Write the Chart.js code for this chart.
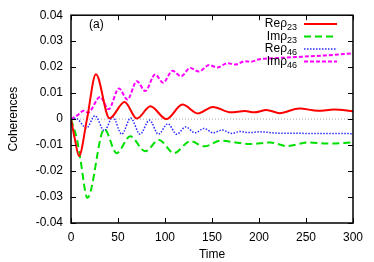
<!DOCTYPE html>
<html>
<head>
<meta charset="utf-8">
<script src="https://cdn.jsdelivr.net/npm/chart.js@4.4.0/dist/chart.umd.min.js"></script>
<style>
  html, body { margin: 0; padding: 0; background: #fff; }
  canvas { display: block; }
</style>
</head>
<body>
<canvas id="coherenceChart" width="374" height="262"></canvas>
<script>
// values (extrema + a few points on the steep start)
const timeRe23 = [0, 4, 8.5, 17, 26.5, 41, 57, 70, 84.5, 101.5, 118.5, 135, 151, 170, 185, 195, 208, 222, 243, 263, 280, 300];
const valRe23 = [0, -0.0075, -0.0142, 0, 0.0173, 0.0003, 0.0066, 0.0002, 0.0049, 0.0000, 0.0056, 0.0022, 0.0047, 0.0026, 0.0031, 0.0026, 0.0035, 0.0023, 0.0041, 0.0032, 0.0037, 0.0030];

const timeIm23 = [0, 6.5, 10, 17.5, 35.5, 48.5, 63, 79, 93.5, 109.5, 127, 142, 159, 175, 190, 212, 230, 252, 272, 300];
const valIm23 = [0, -0.008, -0.0155, -0.0303, -0.0038, -0.0131, -0.0066, -0.0124, -0.0080, -0.0131, -0.0085, -0.0105, -0.0083, -0.0090, -0.0096, -0.0090, -0.0104, -0.0090, -0.0094, -0.0090];

const timeRe46 = [0, 5, 16.5, 25.5, 35.5, 44.5, 54, 63.5, 73.5, 83.5, 93, 103, 112.5, 122, 132, 141.5, 151.5, 160.5, 171, 180, 190, 200, 220, 250, 300];
const valRe46 = [0, 0.0003, -0.0034, 0.0013, -0.0045, 0.0008, -0.0058, 0.0004, -0.0058, -0.0004, -0.0058, -0.0018, -0.0058, -0.0030, -0.0053, -0.0036, -0.0053, -0.0042, -0.0055, -0.0048, -0.0052, -0.0049, -0.0054, -0.0055, -0.0056];

const timeIm46 = [0, 7, 13.5, 18, 31, 40, 51, 60, 70, 79, 89.5, 98, 108, 117, 127, 136, 147, 155.5, 166.5, 175, 185, 191, 200, 220, 245, 270, 300];
const valIm46 = [0, 0.0015, 0.0032, 0.0025, 0.0085, 0.0038, 0.0118, 0.0075, 0.0146, 0.0108, 0.0172, 0.0140, 0.0186, 0.0165, 0.0197, 0.0183, 0.0208, 0.0199, 0.0215, 0.0210, 0.0223, 0.0221, 0.0230, 0.0235, 0.0240, 0.0245, 0.0253];

const legendBase = ['Re\u03c1', 'Im\u03c1', 'Re\u03c1', 'Im\u03c1'];
const legendSub = ['23', '23', '46', '46'];
const xTicks = [0, 50, 100, 150, 200, 250, 300];
const yTicks = [-0.04, -0.03, -0.02, -0.01, 0, 0.01, 0.02, 0.03, 0.04];
const panelLabel = '(a)';

const FONT = '"Liberation Sans", Arial, Helvetica, sans-serif';

function pairs(ts, vs) {
    return ts.map((t, i) => ({ x: t, y: vs[i] }));
}

const seriesStyle = [
    { color: '#ff0000', width: 2, dash: [] },
    { color: '#00e000', width: 2, dash: [7, 4] },
    { color: '#2a2aff', width: 1.5, dash: [1.5, 1.5] },
    { color: '#ff00ff', width: 2, dash: [4, 2] }
];
const seriesData = [
    pairs(timeRe23, valRe23),
    pairs(timeIm23, valIm23),
    pairs(timeRe46, valRe46),
    pairs(timeIm46, valIm46)
];

// gnuplot-like frame, inward ticks, zero axis, panel label and legend
const gnuplotLook = {
    id: 'gnuplotLook',
    beforeDatasetsDraw(chart) {
        const { ctx, chartArea: a, scales: { y } } = chart;
        const y0 = y.getPixelForValue(0);
        ctx.save();
        ctx.strokeStyle = '#a8a8a8';
        ctx.lineWidth = 1;
        ctx.setLineDash([1, 2]);
        ctx.beginPath();
        ctx.moveTo(a.left, y0);
        ctx.lineTo(a.right, y0);
        ctx.stroke();
        ctx.restore();
    },
    afterDatasetsDraw(chart) {
        const { ctx, chartArea: a, scales: { x, y } } = chart;
        ctx.save();
        ctx.strokeStyle = '#000';
        ctx.lineWidth = 1;
        ctx.beginPath();
        xTicks.forEach(t => {
            const px = Math.round(x.getPixelForValue(t)) + 0.5;
            ctx.moveTo(px, a.bottom); ctx.lineTo(px, a.bottom - 5);
            ctx.moveTo(px, a.top); ctx.lineTo(px, a.top + 5);
        });
        yTicks.forEach(v => {
            const py = Math.round(y.getPixelForValue(v)) + 0.5;
            ctx.moveTo(a.left, py); ctx.lineTo(a.left + 5, py);
            ctx.moveTo(a.right, py); ctx.lineTo(a.right - 5, py);
        });
        ctx.stroke();
        ctx.lineWidth = 1.5;
        ctx.strokeRect(a.left, a.top, a.right - a.left, a.bottom - a.top);

        ctx.fillStyle = '#000';
        ctx.font = '12px ' + FONT;
        ctx.textBaseline = 'middle';
        ctx.textAlign = 'left';
        ctx.fillText(panelLabel, 89, 25);

        // legend
        const textRight = 297, lineL = 304, lineR = 337;
        legendBase.forEach((base, i) => {
            const rowY = 24 + i * 12.5;
            ctx.font = '9px ' + FONT;
            const subW = ctx.measureText(legendSub[i]).width;
            ctx.font = '12px ' + FONT;
            const baseW = ctx.measureText(base).width;
            ctx.textBaseline = 'alphabetic';
            ctx.fillText(base, textRight - subW - baseW, rowY + 3);
            ctx.font = '9px ' + FONT;
            ctx.fillText(legendSub[i], textRight - subW, rowY + 6);

            const st = seriesStyle[i];
            ctx.strokeStyle = st.color;
            ctx.lineWidth = st.width;
            ctx.setLineDash(st.dash);
            ctx.beginPath();
            ctx.moveTo(lineL, rowY);
            ctx.lineTo(lineR, rowY);
            ctx.stroke();
            ctx.setLineDash([]);
        });
        ctx.restore();
    }
};

const ctx = document.getElementById('coherenceChart').getContext('2d');
window.myChart = new Chart(ctx, {
    type: 'line',
    data: {
        datasets: seriesData.map((d, i) => ({
            label: legendBase[i] + legendSub[i],
            data: d,
            borderColor: seriesStyle[i].color,
            borderWidth: seriesStyle[i].width,
            borderDash: seriesStyle[i].dash,
            pointRadius: 0,
            fill: false,
            cubicInterpolationMode: 'monotone'
        }))
    },
    options: {
        responsive: false,
        animation: false,
        devicePixelRatio: 1,
        layout: { padding: { top: 15, right: 21, left: 0, bottom: 0 } },
        plugins: {
            legend: { display: false },
            tooltip: { enabled: false }
        },
        scales: {
            x: {
                type: 'linear',
                min: 0,
                max: 300,
                afterBuildTicks: s => { s.ticks = xTicks.map(v => ({ value: v })); },
                afterFit: s => { s.height = 39; },
                grid: { display: false, drawTicks: false },
                border: { display: false },
                ticks: { color: '#000', font: { family: FONT, size: 12 }, padding: 7, maxRotation: 0 },
                title: { display: true, text: 'Time', color: '#000', font: { family: FONT, size: 12 }, padding: { top: 0, bottom: 0 } }
            },
            y: {
                type: 'linear',
                min: -0.04,
                max: 0.04,
                afterBuildTicks: s => { s.ticks = yTicks.map(v => ({ value: v })); },
                afterFit: s => { s.width = 71; },
                grid: { display: false, drawTicks: false },
                border: { display: false },
                ticks: { color: '#000', font: { family: FONT, size: 12 }, padding: 8 },
                title: { display: true, text: 'Coherences', color: '#000', font: { family: FONT, size: 12 }, padding: { top: 6, bottom: 0 } }
            }
        }
    },
    plugins: [gnuplotLook]
});
</script>
</body>
</html>
